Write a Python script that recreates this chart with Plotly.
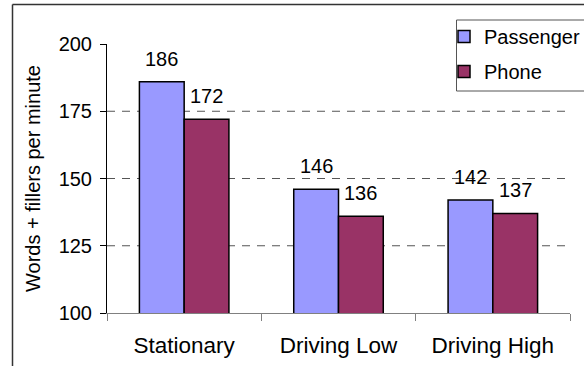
import plotly.graph_objects as go

# Speaking rate by condition
conditions = ["Stationary", "Driving Low", "Driving High"]
passenger = [186, 146, 142]
phone = [172, 136, 137]
series_names = ["Passenger", "Phone"]
series_colors = ["#9999FF", "#993366"]

y_range = [100, 200]
y_step = 25
grid_values = [125, 150, 175]
bar_gap = 0.42

FONT = "Liberation Sans, Arial, sans-serif"
W, H = 584, 366
ML, MR, MT, MB = 107, 14, 44, 53
plot_w = W - ML - MR
plot_h = H - MT - MB


def px_to_paper_x(px):
    return (px - ML) / plot_w


def px_to_paper_y(py):
    return (H - MB - py) / plot_h


fig = go.Figure()
for idx, (name, vals, col) in enumerate(zip(series_names, [passenger, phone], series_colors)):
    fig.add_trace(go.Bar(
        x=conditions, y=vals, name=name, legendgroup=f"g{idx}",
        marker=dict(color=col, line=dict(color="black", width=1.5)),
        hoverinfo="x+y+name",
    ))

# value labels above each bar
quarter = (1 - bar_gap) / 4
annotations = []
for i in range(len(conditions)):
    for k, vals in enumerate([passenger, phone]):
        annotations.append(dict(
            x=i + (-quarter if k == 0 else quarter), y=vals[i],
            xref="x", yref="y", text=str(vals[i]), showarrow=False,
            yanchor="middle", yshift=23,
            font=dict(family=FONT, size=20, color="black"),
        ))

shapes = [
    # dashed horizontal guides
    *[dict(type="line", xref="paper", yref="y", x0=0, x1=1, y0=g, y1=g,
           line=dict(color="#555555", width=1, dash="8px,7px"), layer="below")
      for g in grid_values],
    # outer chart frame: left and top edges
    dict(type="line", xref="paper", yref="paper",
         x0=px_to_paper_x(12.5), x1=px_to_paper_x(12.5),
         y0=px_to_paper_y(H), y1=px_to_paper_y(4.5),
         line=dict(color="#333333", width=1.5)),
    dict(type="line", xref="paper", yref="paper",
         x0=px_to_paper_x(12.5), x1=px_to_paper_x(W),
         y0=px_to_paper_y(4.5), y1=px_to_paper_y(4.5),
         line=dict(color="#333333", width=1.5)),
    # legend frame
    dict(type="rect", xref="paper", yref="paper",
         x0=px_to_paper_x(456.5), x1=px_to_paper_x(W + 3),
         y0=px_to_paper_y(91), y1=px_to_paper_y(20),
         line=dict(color="#555555", width=1), fillcolor="white", layer="below"),
]

fig.update_layout(
    template="none",
    width=W, height=H,
    margin=dict(l=ML, r=MR, t=MT, b=MB, autoexpand=False),
    paper_bgcolor="white", plot_bgcolor="white",
    barmode="group", bargap=bar_gap, bargroupgap=0,
    font=dict(family=FONT, size=20, color="black"),
    showlegend=True,
    legend=dict(
        x=px_to_paper_x(444), y=px_to_paper_y(17), xanchor="left", yanchor="top",
        bgcolor="rgba(0,0,0,0)", borderwidth=0, tracegroupgap=6,
        traceorder="grouped",
        font=dict(family=FONT, size=20, color="black"),
    ),
    annotations=annotations,
    shapes=shapes,
)
fig.update_xaxes(
    type="category", showline=True, linecolor="#808080", linewidth=1,
    ticks="outside", tickson="boundaries", ticklen=7, tickcolor="#808080",
    showgrid=False, ticklabelstandoff=12, automargin=False,
    tickfont=dict(family=FONT, size=22.5, color="black"),
)
fig.update_yaxes(
    range=y_range, dtick=y_step, tick0=y_range[0],
    showline=True, linecolor="black", linewidth=1,
    ticks="outside", ticklen=6, tickcolor="black",
    showgrid=False, zeroline=False, ticklabelstandoff=4, automargin=False,
    tickfont=dict(family=FONT, size=20, color="black"),
    title=dict(text="Words + fillers per minute",
               font=dict(family=FONT, size=20, color="black"), standoff=12),
)

fig.write_html("out.html")
